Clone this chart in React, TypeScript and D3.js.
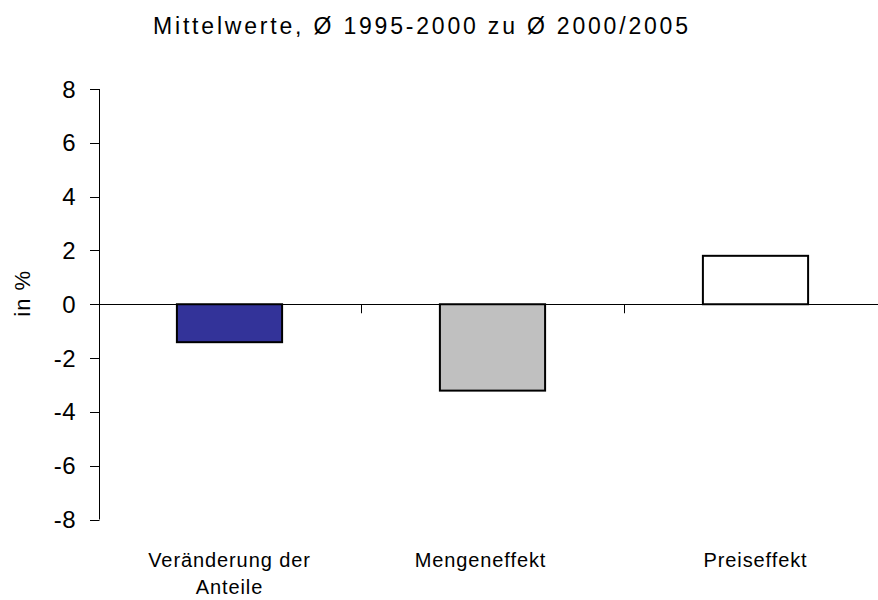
import React from "react";
import * as d3 from "d3";

const categories = ["Veränderung der|Anteile", "Mengeneffekt", "Preiseffekt"];
const values = [-1.41, -3.21, 1.8];
const barColors = ["#333399", "#c0c0c0", "#ffffff"];
const yTicks = [8, 6, 4, 2, 0, -2, -4, -6, -8];
const title = "Mittelwerte, Ø 1995-2000 zu Ø 2000/2005";
const yLabel = "in %";

export default function App() {
  const W = 878, H = 600;
  const x = d3.scaleBand<string>().domain(categories).range([98, 887]).padding(0);
  const y = d3.scaleLinear().domain([-8, 8]).range([519.5, 89]);
  const step = x.step();
  const font = "'Liberation Sans', Arial, sans-serif";
  const labelShift = [0, -12, 0];
  return (
    <svg width={W} height={H} style={{ position: "absolute", left: 0, top: 0 }} fontFamily={font}>
      <rect width={W} height={H} fill="#fff" />
      <text x={420.5} y={34} textAnchor="middle" fontSize={23} textLength={535} lengthAdjust="spacing" fill="#000">{title}</text>
      <text transform={`translate(30,${y(0) - 11}) rotate(-90)`} textAnchor="middle" fontSize={22} letterSpacing={1}>{yLabel}</text>
      {/* y axis */}
      <line x1={99.5} x2={99.5} y1={y(8)} y2={y(-8)} stroke="#000" strokeWidth={1} />
      {yTicks.map((t) => (
        <g key={t}>
          <line x1={90} x2={99.5} y1={Math.round(y(t)) + 0.5} y2={Math.round(y(t)) + 0.5} stroke="#000" />
          <text x={76} y={y(t) + 8.5} textAnchor="end" fontSize={24} letterSpacing={0.5}>{t}</text>
        </g>
      ))}
      {/* bars */}
      {categories.map((c, i) => {
        const v = values[i];
        const bx = (x(c) as number) + step * 0.3;
        const top = Math.min(y(v), y(0));
        const h = Math.abs(y(v) - y(0));
        return (
          <rect key={c} x={bx} y={top} width={step * 0.4} height={h} fill={barColors[i]} stroke="#000" strokeWidth={2} />
        );
      })}
      {/* zero line */}
      <line x1={99.5} x2={W} y1={Math.round(y(0)) + 0.5} y2={Math.round(y(0)) + 0.5} stroke="#000" strokeWidth={1} />
      {categories.slice(1).map((c) => (
        <line key={c} x1={Math.round(x(c) as number) + 0.5} x2={Math.round(x(c) as number) + 0.5} y1={y(0)} y2={y(0) + 9} stroke="#000" />
      ))}
      {/* x labels */}
      {categories.map((c, i) => {
        const cx = (x(c) as number) + step / 2 + labelShift[i];
        return c.split("|").map((line, j) => (
          <text key={c + j} x={cx} y={567 + j * 27} textAnchor="middle" fontSize={20} letterSpacing={0.9}>{line}</text>
        ));
      })}
    </svg>
  );
}
